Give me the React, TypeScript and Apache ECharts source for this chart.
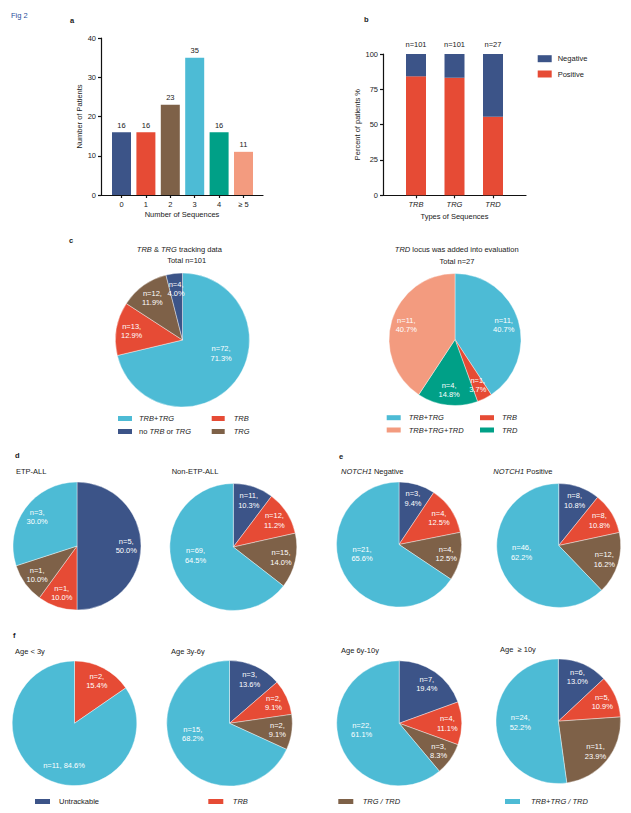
import React, { useEffect, useRef } from "react";
import * as echarts from "echarts";

const FONT = '"Liberation Sans", Arial, Helvetica, sans-serif';
const TEXT = "#1a1a1a";
const NAVY = "#3C5488";
const RED = "#E64B35";
const BROWN = "#7E6148";
const CYAN = "#4DBBD5";
const TEAL = "#00A087";
const SALMON = "#F39B7F";

// ---- Panel a ----
const seqCategories = ["0", "1", "2", "3", "4", "≥ 5"];
const seqPatients = [16, 16, 23, 35, 16, 11];
const seqColors = [NAVY, RED, BROWN, CYAN, TEAL, SALMON];

// ---- Panel b ----
const typeCategories = ["TRB", "TRG", "TRD"];
const positivePct = [84.2, 83.2, 55.6];
const negativePct = [15.8, 16.8, 44.4];
const typeN = [101, 101, 27];

// ---- Panel c ----
const cLeftNames = ["TRB+TRG", "TRB", "TRG", "no TRB or TRG"];
const cLeftValues = [72, 13, 12, 4];
const cLeftColors = [CYAN, RED, BROWN, NAVY];
const cRightNames = ["TRB+TRG", "TRB", "TRD", "TRB+TRG+TRD"];
const cRightValues = [11, 1, 4, 11];
const cRightColors = [CYAN, RED, TEAL, SALMON];

// ---- Panels d, e, f ----
const groupNames = ["Untrackable", "TRB", "TRG / TRD", "TRB+TRG / TRD"];
const groupColors = [NAVY, RED, BROWN, CYAN];
const etpValues = [5, 1, 1, 3];
const nonEtpValues = [11, 12, 15, 69];
const notchNegValues = [3, 4, 4, 21];
const notchPosValues = [8, 8, 12, 46];
const ageLt3Values = [0, 2, 0, 11];
const age3to6Values = [3, 2, 2, 15];
const age6to10Values = [7, 4, 3, 22];
const ageGe10Values = [6, 5, 11, 24];

const RICH = {
  i: { fontStyle: "italic", fontSize: 7.5, fontFamily: FONT, color: TEXT, fill: TEXT },
};
const AX_LINE = { color: "#111", width: 1.2 };
const AX_TEXT = { fontSize: 7.5, fontFamily: FONT, color: TEXT };

function pieSeries(
  names: string[],
  values: number[],
  colors: string[],
  cx: number,
  cy: number,
  r: number,
  oneLineNames: string[] = []
) {
  const items = names
    .map((n, i) => ({ name: n, value: values[i], itemStyle: { color: colors[i] } }))
    .filter((d) => d.value > 0);
  const total = items.reduce((s, d) => s + d.value, 0);
  const mids: number[] = [];
  let acc = 0;
  items.forEach((d) => {
    mids.push((acc + d.value / 2) / total);
    acc += d.value;
  });
  return {
    type: "pie",
    center: [cx, cy],
    radius: r,
    startAngle: 90,
    clockwise: true,
    silent: true,
    data: items,
    itemStyle: { borderColor: "#fff", borderWidth: 0.4 },
    label: {
      show: true,
      position: "inside",
      color: "#fff",
      fontSize: 7.5,
      lineHeight: 9.5,
      fontFamily: FONT,
      formatter: (p: any) => {
        const pct = (Math.round((p.value * 1000) / total) / 10).toFixed(1);
        const sep = oneLineNames.includes(p.name) ? " " : "\n";
        return `n=${p.value},${sep}${pct}%`;
      },
    },
    labelLine: { show: false },
    emphasis: { disabled: true },
    labelLayout: (p: any) => {
      const i = p.dataIndex;
      const share = items[i].value / total;
      let deg = mids[i] * 360;
      let k = 0.77;
      if (share > 0.5) {
        // large slices: label pulled toward the nearest axis direction
        const nearest = Math.round(deg / 90) * 90;
        deg = (deg + nearest) / 2;
        k = share > 0.8 ? 0.7 : 0.61;
      }
      const ang = (deg * Math.PI) / 180;
      return {
        x: cx + Math.sin(ang) * k * r,
        y: cy - Math.cos(ang) * k * r,
        align: "center",
        verticalAlign: "middle",
      };
    },
  };
}

function legendItem(
  name: string,
  color: string,
  left: number,
  cy: number,
  w: number,
  h: number,
  gap: number,
  formatted?: string
) {
  return {
    show: true,
    left,
    top: cy - 5,
    orient: "horizontal",
    padding: 0,
    itemWidth: w,
    itemHeight: h,
    itemGap: 0,
    selectedMode: false,
    icon: "rect",
    data: [{ name, icon: "rect", itemStyle: { color, borderWidth: 0 } }],
    textStyle: {
      fontSize: 7.5,
      fontFamily: FONT,
      color: TEXT,
      lineHeight: 10,
      padding: [0, 0, 0, gap - 5],
      rich: RICH,
    },
    formatter: formatted ? () => formatted : "{name}",
  };
}

function txt(x: number, y: number, text: string, align = "left", extra: any = {}) {
  return {
    type: "text",
    x,
    y,
    silent: true,
    style: {
      text,
      fill: TEXT,
      fontSize: 7.5,
      fontFamily: FONT,
      align,
      verticalAlign: "middle",
      textAlign: align,
      textVerticalAlign: "middle",
      rich: RICH,
      ...extra,
    },
  };
}

function buildOption() {
  const grids = [
    { left: 101, top: 38, width: 162, height: 157 },
    { left: 109.3, top: 38, width: 146.4, height: 157 },
    { left: 383, top: 54, width: 143, height: 141.3 },
    { left: 396.75, top: 54, width: 115.5, height: 141.3 },
  ].map((g) => ({ ...g, containLabel: false, outerBoundsMode: "none", show: false }));

  const italicCat = (v: string) => `{i|${v}}`;

  const xAxis = [
    {
      gridIndex: 0,
      type: "value",
      min: 0,
      max: 1,
      axisLine: { show: true, onZero: false, lineStyle: AX_LINE },
      axisTick: { show: false },
      axisLabel: { show: false },
      splitLine: { show: false },
      name: "Number of Sequences",
      nameLocation: "middle",
      nameGap: 15,
      nameTextStyle: AX_TEXT,
    },
    {
      gridIndex: 1,
      type: "category",
      data: seqCategories,
      axisLine: { show: false },
      axisTick: { show: true, alignWithLabel: true, length: 3, lineStyle: AX_LINE },
      axisLabel: { ...AX_TEXT, margin: 5 },
      splitLine: { show: false },
    },
    {
      gridIndex: 2,
      type: "value",
      min: 0,
      max: 1,
      axisLine: { show: true, onZero: false, lineStyle: AX_LINE },
      axisTick: { show: false },
      axisLabel: { show: false },
      splitLine: { show: false },
      name: "Types of Sequences",
      nameLocation: "middle",
      nameGap: 17.5,
      nameTextStyle: AX_TEXT,
    },
    {
      gridIndex: 3,
      type: "category",
      data: typeCategories,
      axisLine: { show: false },
      axisTick: { show: true, alignWithLabel: true, length: 3, lineStyle: AX_LINE },
      axisLabel: { ...AX_TEXT, margin: 5, formatter: italicCat, rich: RICH },
      splitLine: { show: false },
    },
  ];

  const yAxis = [
    {
      gridIndex: 0,
      type: "value",
      min: 0,
      max: 40,
      interval: 10,
      axisLine: { show: true, onZero: false, lineStyle: AX_LINE },
      axisTick: { show: true, length: 3, lineStyle: AX_LINE },
      axisLabel: { ...AX_TEXT, margin: 5 },
      splitLine: { show: false },
      name: "Number of Patients",
      nameLocation: "middle",
      nameRotate: 90,
      nameGap: 18,
      nameTextStyle: AX_TEXT,
    },
    { gridIndex: 1, type: "value", min: 0, max: 40, show: false, splitLine: { show: false } },
    {
      gridIndex: 2,
      type: "value",
      min: 0,
      max: 100,
      interval: 25,
      axisLine: { show: true, onZero: false, lineStyle: AX_LINE },
      axisTick: { show: true, length: 3, lineStyle: AX_LINE },
      axisLabel: { ...AX_TEXT, margin: 5 },
      splitLine: { show: false },
      name: "Percent of patients %",
      nameLocation: "middle",
      nameRotate: 90,
      nameGap: 19,
      nameTextStyle: AX_TEXT,
    },
    { gridIndex: 3, type: "value", min: 0, max: 100, show: false, splitLine: { show: false } },
  ];

  const series: any[] = [
    {
      type: "bar",
      name: "Patients",
      xAxisIndex: 1,
      yAxisIndex: 1,
      barWidth: 19,
      silent: true,
      data: seqPatients.map((v, i) => ({ value: v, itemStyle: { color: seqColors[i] } })),
      label: { show: true, position: "top", distance: 3, ...AX_TEXT },
    },
    {
      type: "bar",
      name: "Positive",
      stack: "b",
      xAxisIndex: 3,
      yAxisIndex: 3,
      barWidth: 20,
      silent: true,
      itemStyle: { color: RED },
      data: positivePct,
    },
    {
      type: "bar",
      name: "Negative",
      stack: "b",
      xAxisIndex: 3,
      yAxisIndex: 3,
      barWidth: 20,
      silent: true,
      itemStyle: { color: NAVY },
      data: negativePct,
      label: {
        show: true,
        position: "top",
        distance: 5.5,
        ...AX_TEXT,
        formatter: (p: any) => `n=${typeN[p.dataIndex]}`,
      },
    },
    pieSeries(cLeftNames, cLeftValues, cLeftColors, 182.5, 340, 67),
    pieSeries(cRightNames, cRightValues, cRightColors, 455, 339.5, 66),
    pieSeries(groupNames, etpValues, groupColors, 77, 546, 64),
    pieSeries(groupNames, nonEtpValues, groupColors, 233.3, 547, 63.5),
    pieSeries(groupNames, notchNegValues, groupColors, 399, 544.5, 62.5),
    pieSeries(groupNames, notchPosValues, groupColors, 558.7, 545.5, 62),
    pieSeries(groupNames, ageLt3Values, groupColors, 74.5, 723.3, 62.3, ["TRB+TRG / TRD"]),
    pieSeries(groupNames, age3to6Values, groupColors, 229.5, 723.3, 62.8),
    pieSeries(groupNames, age6to10Values, groupColors, 399.2, 723.3, 62.5),
    pieSeries(groupNames, ageGe10Values, groupColors, 558.3, 721.2, 62.3),
  ];

  const legend = [
    legendItem("Negative", NAVY, 537.7, 58.7, 14, 7, 6),
    legendItem("Positive", RED, 537.7, 74, 14, 7, 6),
    legendItem("TRB+TRG", CYAN, 118, 418.5, 14, 5, 7, "{i|TRB}+{i|TRG}"),
    legendItem("TRB", RED, 211.7, 418.5, 13, 5, 9, "{i|TRB}"),
    legendItem("no TRB or TRG", NAVY, 118, 431.5, 14, 5, 7, "no {i|TRB} or {i|TRG}"),
    legendItem("TRG", BROWN, 211.7, 431.5, 13, 5, 9, "{i|TRG}"),
    legendItem("TRB+TRG", CYAN, 386.7, 417.7, 14, 5, 8, "{i|TRB}+{i|TRG}"),
    legendItem("TRB", RED, 480, 417.7, 14, 5, 8, "{i|TRB}"),
    legendItem("TRB+TRG+TRD", SALMON, 386.7, 430, 14, 5, 8, "{i|TRB}+{i|TRG}+{i|TRD}"),
    legendItem("TRD", TEAL, 480, 430, 14, 5, 8, "{i|TRD}"),
    legendItem("Untrackable", NAVY, 35, 801.5, 15, 5, 9),
    legendItem("TRB", RED, 208.3, 801.5, 15, 5, 9.5, "{i|TRB}"),
    legendItem("TRG / TRD", BROWN, 338.3, 801.5, 15, 5, 9.4, "{i|TRG / TRD}"),
    legendItem("TRB+TRG / TRD", CYAN, 505, 801.5, 15, 5, 11, "{i|TRB+TRG / TRD}"),
  ];

  const bold = { fontWeight: "bold" };
  const graphic = {
    elements: [
      txt(11, 15.5, "Fig 2", "left", { fill: "#1F4E9C" }),
      txt(70, 20, "a", "left", bold),
      txt(364, 19.5, "b", "left", bold),
      txt(69, 240, "c", "left", bold),
      txt(15, 455, "d", "left", bold),
      txt(339, 456, "e", "left", bold),
      txt(13, 635, "f", "left", bold),
      txt(179.3, 249, "{i|TRB} & {i|TRG} tracking data", "center"),
      txt(186.7, 260.5, "Total n=101", "center"),
      txt(456.7, 249.3, "{i|TRD} locus was added into evaluation", "center"),
      txt(457, 261, "Total n=27", "center"),
      txt(16, 471.7, "ETP-ALL"),
      txt(171.7, 471.7, "Non-ETP-ALL"),
      txt(341, 471.7, "{i|NOTCH1} Negative"),
      txt(493.3, 471.7, "{i|NOTCH1} Positive"),
      txt(15, 651, "Age < 3y"),
      txt(171, 651, "Age 3y-6y"),
      txt(341, 650.7, "Age 6y-10y"),
      txt(500, 649.3, "Age  ≥ 10y"),
    ],
  };

  return {
    animation: false,
    backgroundColor: "#fff",
    textStyle: { fontFamily: FONT },
    grid: grids,
    xAxis,
    yAxis,
    series,
    legend,
    graphic,
    tooltip: { show: false },
  };
}

if (typeof document !== "undefined") {
  document.body.style.margin = "0";
  document.body.style.padding = "0";
  document.body.style.overflow = "hidden";
}

export default function App() {
  const ref = useRef<HTMLDivElement>(null);
  useEffect(() => {
    document.body.style.margin = "0";
    const chart = echarts.init(ref.current as HTMLDivElement, null, { renderer: "svg" });
    chart.setOption(buildOption() as any);
    return () => chart.dispose();
  }, []);
  return <div ref={ref} style={{ width: 631, height: 813, background: "#fff" }} />;
}
